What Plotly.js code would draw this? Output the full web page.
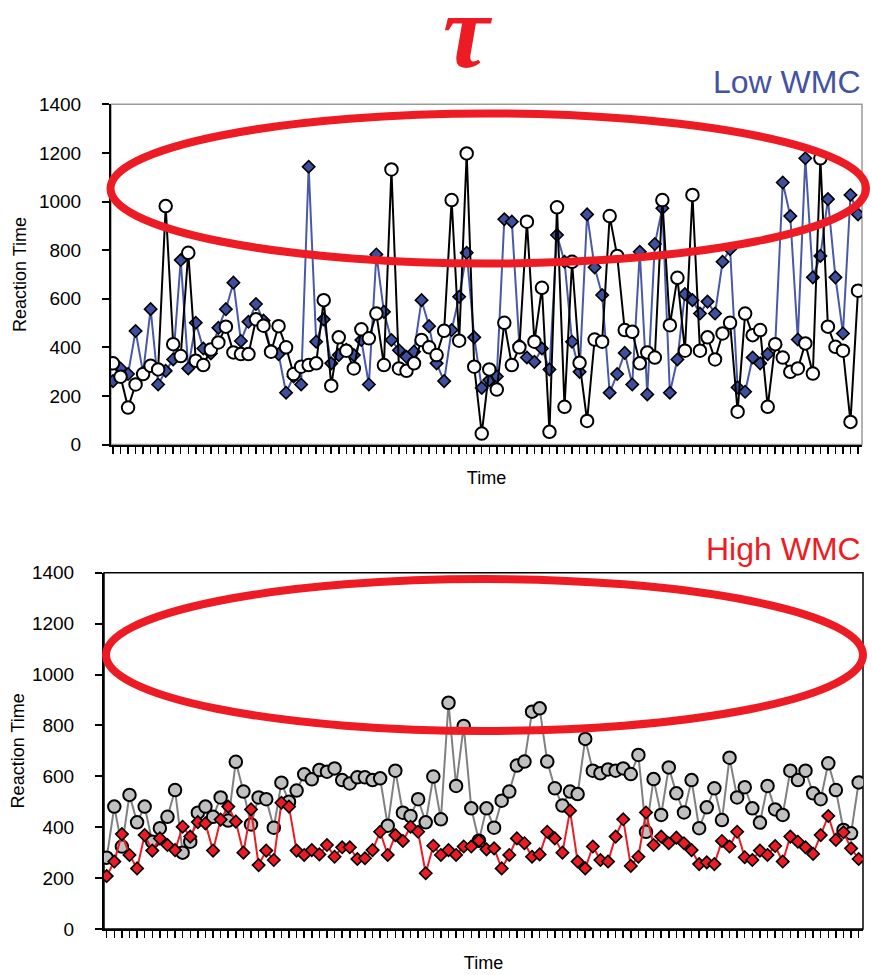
<!DOCTYPE html>
<html>
<head>
<meta charset="utf-8">
<script src="https://cdn.plot.ly/plotly-3.0.1.min.js"></script>
<style>html,body{margin:0;padding:0;background:#fff;}#chart{width:872px;height:975px;}</style>
</head>
<body>
<div id="chart"></div>
<script>
// Trial index (Time)
const trials = Array.from({length: 100}, (_, i) => i + 1);

// Low WMC – blue diamonds
const lowDiamond = [261,313,290,467,295,557,247,303,350,759,
  313,501,395,375,480,557,666,426,505,578,
  510,385,372,213,280,247,1143,423,515,334,
  368,390,368,430,247,782,546,430,388,361,
  382,594,487,334,261,471,608,789,441,233,
  265,280,927,917,409,358,340,395,309,862,
  752,423,299,947,729,615,213,290,377,247,
  793,206,825,972,213,350,619,594,539,588,
  539,752,804,235,217,358,334,372,410,1078,
  940,432,1178,688,776,1010,688,457,1027,947];

// Low WMC – white circles
const lowCircle = [334,279,152,247,290,324,309,981,413,364,
  789,345,327,391,420,485,379,372,372,515,
  489,382,487,400,290,320,327,334,594,242,
  441,386,313,474,437,539,327,1132,313,303,
  334,430,400,368,468,1006,427,1198,320,45,
  309,226,501,327,400,917,423,645,52,976,
  155,752,336,97,432,423,940,776,471,464,
  334,379,358,1006,491,686,386,1027,386,441,
  350,457,501,135,539,450,471,155,413,358,
  299,313,416,292,1178,485,402,386,93,633];

// High WMC – gray circles
const highCircle = [280,481,324,527,419,481,343,396,441,546,
  300,343,457,481,441,517,426,657,540,411,
  517,510,398,575,500,544,608,588,625,618,
  631,585,572,596,596,585,592,406,622,457,
  444,510,419,599,431,889,562,798,474,347,
  474,398,504,540,642,658,854,867,658,553,
  485,540,530,747,622,612,627,622,631,609,
  684,382,589,448,635,533,458,585,396,478,
  553,428,673,517,557,474,418,562,470,448,
  622,585,622,533,510,651,546,389,376,576];

// High WMC – red diamonds
const highDiamond = [208,265,373,291,238,369,308,356,330,310,
  402,363,420,415,308,430,481,422,300,470,
  251,308,271,496,481,308,291,310,293,330,
  284,321,321,275,278,310,382,291,369,346,
  402,382,219,327,291,310,291,324,324,347,
  313,317,238,291,356,337,284,293,382,356,
  300,465,265,238,324,271,265,363,431,248,
  284,458,330,363,337,359,337,310,255,262,
  255,346,324,382,282,271,308,291,326,265,
  363,343,321,295,369,444,350,380,317,275];

const yTicks = [0,200,400,600,800,1000,1200,1400];
const yTitle = 'Reaction Time';
const xTitle = 'Time';
const panelLow = 'Low WMC';
const panelHigh = 'High WMC';

const FONT = 'Arial, "Liberation Sans", sans-serif';
const RED = '#ED1C24';
const BLUE = '#3F4F9F';

const traces = [
  {x: trials, y: lowDiamond, xaxis: 'x', yaxis: 'y', type: 'scatter', mode: 'lines+markers',
   line: {color: '#4A58A8', width: 2},
   marker: {symbol: 'diamond', size: 9.5, color: BLUE, line: {color: '#000', width: 1.6}}},
  {x: trials, y: lowCircle, xaxis: 'x', yaxis: 'y', type: 'scatter', mode: 'lines+markers',
   line: {color: '#000', width: 2},
   marker: {symbol: 'circle', size: 12.5, color: '#fff', line: {color: '#000', width: 2}}},
  {x: trials, y: highCircle, xaxis: 'x2', yaxis: 'y2', type: 'scatter', mode: 'lines+markers',
   line: {color: '#808080', width: 2},
   marker: {symbol: 'circle', size: 12.5, color: '#C0C0C0', line: {color: '#000', width: 2}}},
  {x: trials, y: highDiamond, xaxis: 'x2', yaxis: 'y2', type: 'scatter', mode: 'lines+markers',
   line: {color: RED, width: 2},
   marker: {symbol: 'diamond', size: 9.5, color: RED, line: {color: '#000', width: 1.6}}}
];

function xAxis(domain, range, anchor) {
  return {domain: domain, range: range, anchor: anchor, showgrid: false, zeroline: false,
    showline: true, linecolor: '#000', linewidth: 2,
    ticks: 'outside', ticklen: 7, tickwidth: 1.5, tickcolor: '#000',
    tickmode: 'linear', tick0: 1, dtick: 1, showticklabels: false,
    title: {text: xTitle, font: {family: FONT, size: 18, color: '#000'}, standoff: 19}};
}
function yAxis(domain, anchor, standoff) {
  return {domain: domain, range: [0, 1400], anchor: anchor, showgrid: false, zeroline: false,
    showline: true, linecolor: '#000', linewidth: 2,
    ticks: 'outside', ticklen: 7, tickwidth: 2, tickcolor: '#000',
    tickmode: 'array', tickvals: yTicks, ticktext: yTicks.map(String),
    ticklabelstandoff: 17,
    tickfont: {family: FONT, size: 19, color: '#000'},
    title: {text: yTitle, font: {family: FONT, size: 18, color: '#000'}, standoff: standoff}};
}

const W = 872, H = 975;
const px = v => v / W, py = v => 1 - v / H;

const layout = {
  width: W, height: H,
  margin: {l: 0, r: 0, t: 0, b: 0, autoexpand: false},
  paper_bgcolor: '#fff', plot_bgcolor: '#fff',
  showlegend: false,
  title: {text: '<b><i>τ</i></b>', x: px(466), xanchor: 'center', xref: 'paper', y: py(30), yanchor: 'middle', yref: 'container',
    font: {family: '"Liberation Serif", serif', size: 105, color: RED}},
  xaxis: xAxis([px(111), px(862)], [0.734, 100.53], 'y'),
  yaxis: yAxis([py(444.5), py(104.3)], 'x', 8),
  xaxis2: xAxis([px(104), px(863)], [0.645, 100.57], 'y2'),
  yaxis2: yAxis([py(929), py(572.7)], 'x2', 3),
  shapes: [
    {type: 'rect', xref: 'x domain', yref: 'y domain', x0: 0, x1: 1, y0: 0, y1: 1,
     line: {color: '#9a9a9a', width: 1.5}, layer: 'below'},
    {type: 'rect', xref: 'x2 domain', yref: 'y2 domain', x0: 0, x1: 1, y0: 0, y1: 1,
     line: {color: '#000', width: 1.5}, layer: 'below'},
    {type: 'circle', xref: 'paper', yref: 'paper', x0: px(110.5), x1: px(866), y0: py(263.5), y1: py(113.5),
     line: {color: RED, width: 8}, layer: 'above'},
    {type: 'circle', xref: 'paper', yref: 'paper', x0: px(106), x1: px(863), y0: py(731), y1: py(579),
     line: {color: RED, width: 8}, layer: 'above'}
  ],
  annotations: [
    {text: panelLow, xref: 'paper', yref: 'paper', x: px(863), y: py(82), xanchor: 'right', yanchor: 'middle',
     showarrow: false, font: {family: FONT, size: 32, color: '#4352A2'}},
    {text: panelHigh, xref: 'paper', yref: 'paper', x: px(863), y: py(549), xanchor: 'right', yanchor: 'middle',
     showarrow: false, font: {family: FONT, size: 32, color: RED}}
  ]
};

Plotly.newPlot('chart', traces, layout, {displayModeBar: false, staticPlot: true});
</script>
</body>
</html>
